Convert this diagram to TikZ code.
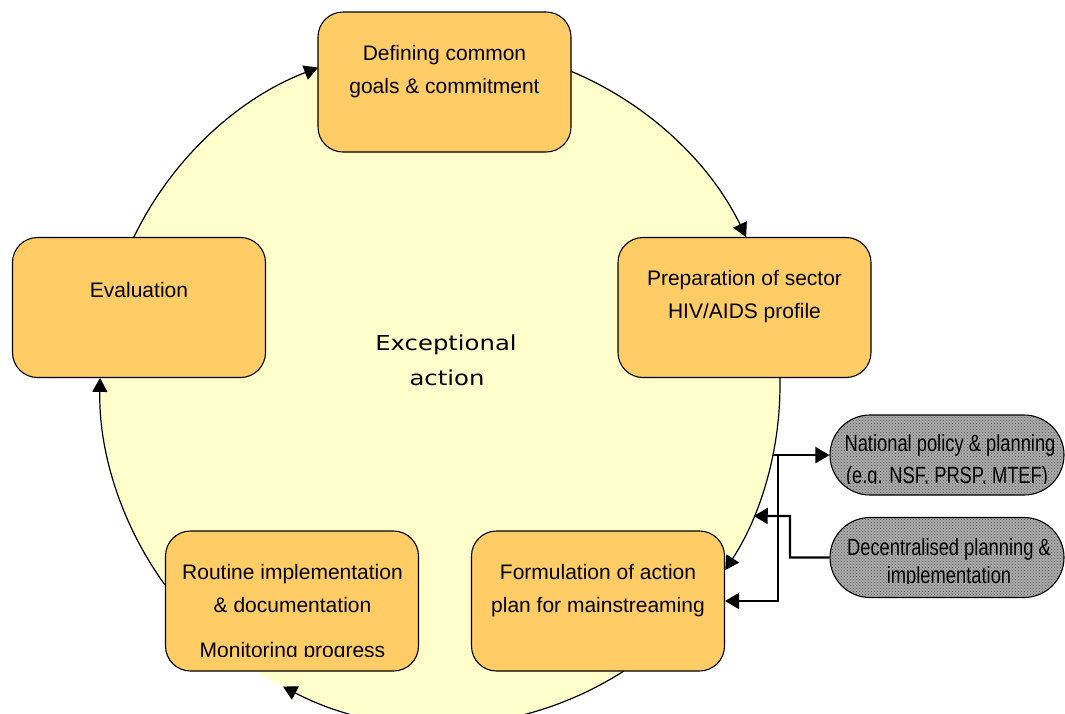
\documentclass[tikz,border=0pt]{standalone}
\usepackage{fontspec}
\setmainfont{Liberation Sans}
\newfontfamily\narrowsans{Liberation Sans}[FakeStretch=0.78]
\newfontfamily\widesans{DejaVu Sans}[FakeStretch=1.18]
\usetikzlibrary{arrows.meta,patterns,calc,shapes.misc}

\definecolor{boxfill}{HTML}{FFCC66}
\definecolor{ringfill}{HTML}{FFFFCC}
\definecolor{greyfill}{HTML}{ABABAB}
\definecolor{dotgrey}{HTML}{555555}

\begin{document}
\begin{tikzpicture}[x=1pt,y=-1pt,
  stage/.style={draw=black, line width=1.1pt, fill=boxfill, rounded corners=25pt,
    minimum width=253pt, minimum height=140pt, inner sep=0pt},
  side/.style={rounded rectangle, draw=black, line width=1.1pt,
    preaction={fill=greyfill}, pattern=crosshatch dots, pattern color=dotgrey,
    minimum width=234pt, minimum height=80pt, inner sep=0pt},
  lbl/.style={anchor=base, inner sep=0pt, font=\fontsize{21}{25}\selectfont},
  sidelbl/.style={anchor=base, inner sep=0pt, font=\narrowsans\fontsize{23.5}{27}\selectfont},
  corelbl/.style={anchor=base, inner sep=0pt, font=\widesans\fontsize{20.6}{25}\selectfont},
  cyc/.style={line width=1.2pt, -{Triangle[length=14pt,width=15pt]}},
  link/.style={line width=2.2pt, -{Triangle[length=14pt,width=16pt]}},
]
\useasboundingbox (0,0) rectangle (1065,713);

% the cycle background
\coordinate (c) at (440,385);
\fill[ringfill] (c) circle[radius=340pt];

% stage boxes
\node[stage] (goals)   at (444.5,82)  {};
\node[stage] (prep)    at (744.5,307.5) {};
\node[stage] (eval)    at (139,307.5) {};
\node[stage] (routine) at (292,601)   {};
\node[stage] (plan)    at (598,601)   {};

% cycle arcs between the stages
\draw[cyc] ($(c)+(154.2:340pt)$) arc[start angle=154.2, end angle=111, radius=340pt];
\draw[cyc] ($(c)+(67.34:340pt)$) arc[start angle=67.34, end angle=25.8, radius=340pt];
\draw[cyc] ($(c)+(1.2:340pt)$) arc[start angle=1.2, end angle=-33, radius=340pt];
\draw[cyc] ($(c)+(-57.27:340pt)$) arc[start angle=-57.27, end angle=-117.5, radius=340pt];
\draw[cyc] ($(c)+(216:340pt)$) arc[start angle=216, end angle=178.8, radius=340pt];

% stage texts
\node[lbl] (goalsA) at (444.5,60) {Defining common};
\node[lbl] (goalsB) at (444.5,93) {goals \& commitment};
\node[lbl] (prepA) at (744.5,285) {Preparation of sector};
\node[lbl] (prepB) at (744.5,318) {HIV/AIDS profile};
\node[lbl] (evalA) at (139,297) {Evaluation};
\node[lbl] (routineA) at (292.5,579) {Routine implementation};
\node[lbl] (routineB) at (292.5,612) {\& documentation};
\begin{scope}
  \clip (routine.north west) rectangle (419,656);
  \node[lbl] (routineC) at (292.5,657) {Monitoring progress};
\end{scope}
\node[lbl] (planA) at (598,579) {Formulation of action};
\node[lbl] (planB) at (598,612) {plan for mainstreaming};

% centre text
\node[corelbl] (coreA) at (446,350) {Exceptional};
\node[corelbl] (coreB) at (447,385) {action};

% side boxes
\node[side] (nat) at (947,455)   {};
\node[side] (dec) at (947,557.5) {};
\begin{scope}
  \clip (800,400) rectangle (1065,483.5);
  \node[sidelbl] (natA) at (950,451) {National policy \& planning};
  \node[sidelbl] (natB) at (947,483) {(e.g. NSF, PRSP, MTEF)};
\end{scope}
\begin{scope}
  \clip (800,500) rectangle (1065,583);
  \node[sidelbl] (decA) at (949,555) {Decentralised planning \&};
  \node[sidelbl] (decB) at (949,583.5) {implementation};
\end{scope}

% links to and from the side boxes
\coordinate (tap) at ($(c)+(-11.9:340pt)$);
\coordinate (junc) at (778,455);
\coordinate (rejoin) at ($(c)+(-22.66:340pt)$);
\coordinate (bend) at (790,516);
\draw[link] (tap) -- (tap -| nat.west);
\draw[link] (junc) |- (plan.east);
\draw[link] (dec.west) -| (bend) -- (rejoin);
\end{tikzpicture}
\end{document}
